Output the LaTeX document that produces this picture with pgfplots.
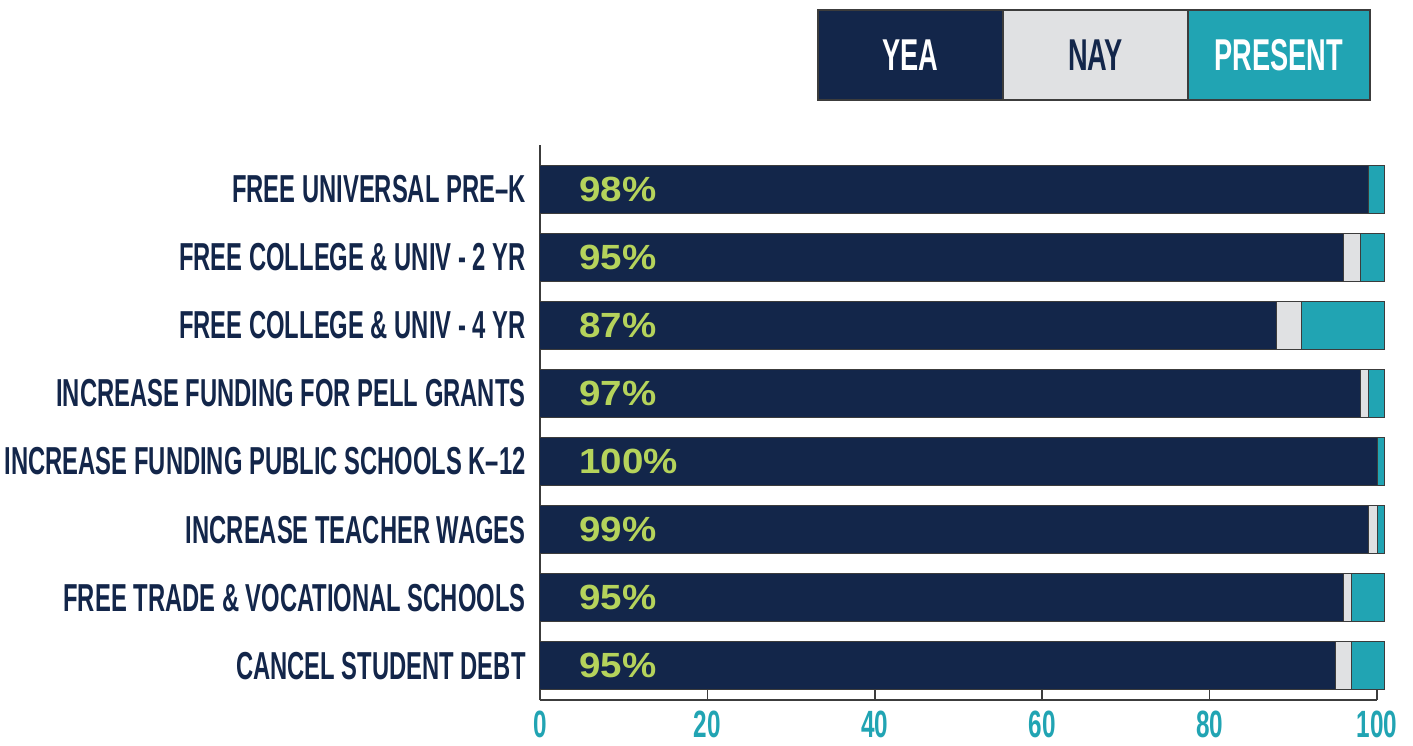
\documentclass[border=0pt]{standalone}
\usepackage{pgfplots}
\pgfplotsset{compat=1.18}
\usepackage{pgfplotstable}
\usepackage{fontspec}
\setmainfont{Liberation Sans}
\newfontfamily\condfont[FakeStretch=0.61, Ligatures=TeX]{Liberation Sans}
\newfontfamily\tickfont[FakeStretch=0.64]{Liberation Sans}
\newfontfamily\pctfont[FakeStretch=1.1]{Liberation Sans}
\definecolor{navy}{HTML}{13264A}
\definecolor{naycol}{HTML}{E0E1E3}
\definecolor{tealcol}{HTML}{21A4B3}
\definecolor{greencol}{HTML}{B5D35B}
\definecolor{bord}{HTML}{3C3C3C}

\pgfplotstableread{
y yea nay pres lab
8 99.0 0   1.9 98
7 96.0 2.0 2.9 95
6 88.0 3.0 9.9 87
5 98.0 1.0 1.9 97
4 100.0 0  0.9 100
3 99.0 1.0 0.9 99
2 96.0 1.0 3.9 95
1 95.0 2.0 3.9 95
}\datatable

\begin{document}
\begin{tikzpicture}
\begin{axis}[
  scale only axis, width=418.5pt, height=277.5pt,
  xmin=0, xmax=100, ymin=0.5, ymax=8.646,
  xbar stacked, bar width=24pt,
  clip=false,
  axis lines*=left,
  axis line style={-, draw=bord, line width=0.75pt},
  xtick={0,20,40,60,80,100},
  tick align=inside, major tick length=5pt,
  xtick style={draw=bord, line width=0.75pt},
  ytick={1,...,8},
  ytick style={draw=none},
  yticklabels={CANCEL STUDENT DEBT, FREE TRADE \& VOCATIONAL SCHOOLS, INCREASE TEACHER WAGES, INCREASE FUNDING PUBLIC SCHOOLS K–12, INCREASE FUNDING FOR PELL GRANTS, FREE COLLEGE \& UNIV - 4 YR, FREE COLLEGE \& UNIV - 2 YR, FREE UNIVERSAL PRE–K},
  yticklabel style={anchor=east, inner sep=0pt, xshift=-7pt, text=navy, font=\condfont\bfseries\fontsize{19.5}{21}\selectfont},
  xticklabel style={anchor=north, inner sep=0pt, yshift=-5.5pt, text=tealcol, font=\tickfont\bfseries\fontsize{19}{21}\selectfont},
  /pgf/number format/assume math mode=true,
]
\addplot[fill=navy, draw=bord, line width=0.5pt] table[x=yea, y=y] {\datatable};
\addplot[fill=naycol, draw=bord, line width=0.5pt] table[x=nay, y=y] {\datatable};
\addplot[fill=tealcol, draw=bord, line width=0.5pt] table[x=pres, y=y] {\datatable};
\end{axis}
\begin{axis}[
  scale only axis, width=418.5pt, height=277.5pt,
  xmin=0, xmax=100, ymin=0.5, ymax=8.646,
  hide axis, clip=false,
]
\addplot[only marks, mark=none, point meta=explicit symbolic,
  nodes near coords={\pgfplotspointmeta\%},
  nodes near coords style={anchor=west, inner sep=0pt, text=greencol, font=\pctfont\bfseries\fontsize{17.5}{19}\selectfont}]
  table[x expr=4.66, y=y, meta=lab] {\datatable};
\end{axis}
% legend
\draw[bord, line width=0.6pt, fill=navy] (139pt,300pt) rectangle (231.5pt,345pt);
\draw[bord, line width=0.6pt, fill=naycol] (231.5pt,300pt) rectangle (324pt,345pt);
\draw[bord, line width=0.6pt, fill=tealcol] (324pt,300pt) rectangle (415pt,345pt);
\node[text=white, font=\condfont\bfseries\fontsize{22.3}{24}\selectfont] at (185.25pt,322.5pt) {YEA};
\node[text=navy, font=\condfont\bfseries\fontsize{22.3}{24}\selectfont] at (277.75pt,322.5pt) {NAY};
\node[text=white, font=\condfont\bfseries\fontsize{22.3}{24}\selectfont] at (369.5pt,322.5pt) {PRESENT};
\path (-270pt,-22.5pt) rectangle (436.5pt,350pt);
\end{tikzpicture}
\end{document}
